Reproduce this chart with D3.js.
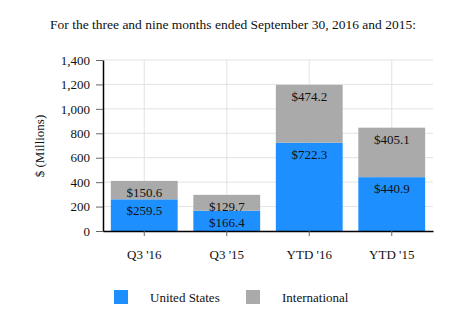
<!DOCTYPE html>
<html><head><meta charset="utf-8">
<script src="https://cdn.jsdelivr.net/npm/d3@7"></script>
<style>body{margin:0;background:#fff}svg{display:block}svg text{font-family:"Times New Roman","Liberation Serif","DejaVu Serif",serif !important;fill:#111}</style>
</head><body><svg id="c" width="466" height="333"></svg>
<script>
const categories = ["Q3 '16", "Q3 '15", "YTD '16", "YTD '15"];
const us = [259.5, 166.4, 722.3, 440.9];
const intl = [150.6, 129.7, 474.2, 405.1];
const yTicks = [0, 200, 400, 600, 800, 1000, 1200, 1400];
const seriesNames = ["United States", "International"];
const colors = ["#1e8fff", "#aaaaaa"];
const FONT = "'Times New Roman','Liberation Serif','DejaVu Serif',serif";

const svg = d3.select("#c");
const m = {l: 103, r: 433, t: 60, b: 231};
const x = d3.scaleBand().domain(categories).range([m.l, m.r]).paddingInner(0.19).paddingOuter(0.095);
const y = d3.scaleLinear().domain([0, 1400]).range([m.b, m.t]);
const fmt = d3.format(",");

svg.append("text").attr("x", 233).attr("y", 29).attr("text-anchor", "middle").attr("font-size", 13.5)
  .text("For the three and nine months ended September 30, 2016 and 2015:");

// grid
svg.append("g").selectAll("line").data(yTicks.slice(1)).join("line")
  .attr("x1", m.l).attr("x2", m.r).attr("y1", d => y(d)).attr("y2", d => y(d))
  .attr("stroke", "#e3e3e3");
svg.append("g").selectAll("line").data(categories).join("line")
  .attr("x1", d => x(d) + x.bandwidth() / 2).attr("x2", d => x(d) + x.bandwidth() / 2)
  .attr("y1", m.t).attr("y2", m.b).attr("stroke", "#e3e3e3");

const stack = categories.map((c, i) => ({c, us: us[i], intl: intl[i]}));
svg.append("g").selectAll("rect").data(stack).join("rect")
  .attr("x", d => x(d.c)).attr("width", x.bandwidth())
  .attr("y", d => y(d.us)).attr("height", d => y(0) - y(d.us)).attr("fill", colors[0]);
svg.append("g").selectAll("rect").data(stack).join("rect")
  .attr("x", d => x(d.c)).attr("width", x.bandwidth())
  .attr("y", d => y(d.us + d.intl)).attr("height", d => y(d.us) - y(d.us + d.intl)).attr("fill", colors[1]);

// labels
svg.append("g").selectAll("text").data(stack).join("text")
  .attr("x", d => x(d.c) + x.bandwidth() / 2).attr("y", d => y(d.us) + 16)
  .attr("text-anchor", "middle").attr("font-size", 13).text(d => "$" + d.us.toFixed(1));
svg.append("g").selectAll("text").data(stack).join("text")
  .attr("x", d => x(d.c) + x.bandwidth() / 2).attr("y", d => y(d.us + d.intl) + 16)
  .attr("text-anchor", "middle").attr("font-size", 13).text(d => "$" + d.intl.toFixed(1));

// y axis
const ya = svg.append("g").attr("transform", `translate(${m.l},0)`)
  .call(d3.axisLeft(y).tickValues(yTicks).tickFormat(fmt).tickSize(7).tickSizeOuter(0).tickPadding(6));
ya.attr("font-family", FONT);
ya.select(".domain").attr("stroke", "#000").attr("stroke-width", 1.5);
ya.selectAll(".tick line").attr("stroke", "#666");
ya.selectAll("text").attr("font-size", 13).attr("fill", "#111");

// x axis
const xa = svg.append("g").attr("transform", `translate(0,${m.b})`)
  .call(d3.axisBottom(x).tickSize(5).tickSizeOuter(0).tickPadding(14));
xa.attr("font-family", FONT);
xa.select(".domain").attr("stroke", "#000").attr("stroke-width", 1.5);
xa.selectAll(".tick line").attr("stroke", "#666");
xa.selectAll("text").attr("font-size", 13).attr("fill", "#111");

svg.append("text").attr("transform", "translate(44,146) rotate(-90)").attr("text-anchor", "middle")
  .attr("font-size", 13).text("$ (Millions)");

// legend
const lg = svg.append("g");
const lx = [114, 246];
seriesNames.forEach((n, i) => {
  lg.append("rect").attr("x", lx[i]).attr("y", 290).attr("width", 14).attr("height", 14).attr("fill", colors[i]);
  lg.append("text").attr("x", lx[i] + 36).attr("y", 301.5).attr("font-size", 13).text(n);
});
</script></body></html>
